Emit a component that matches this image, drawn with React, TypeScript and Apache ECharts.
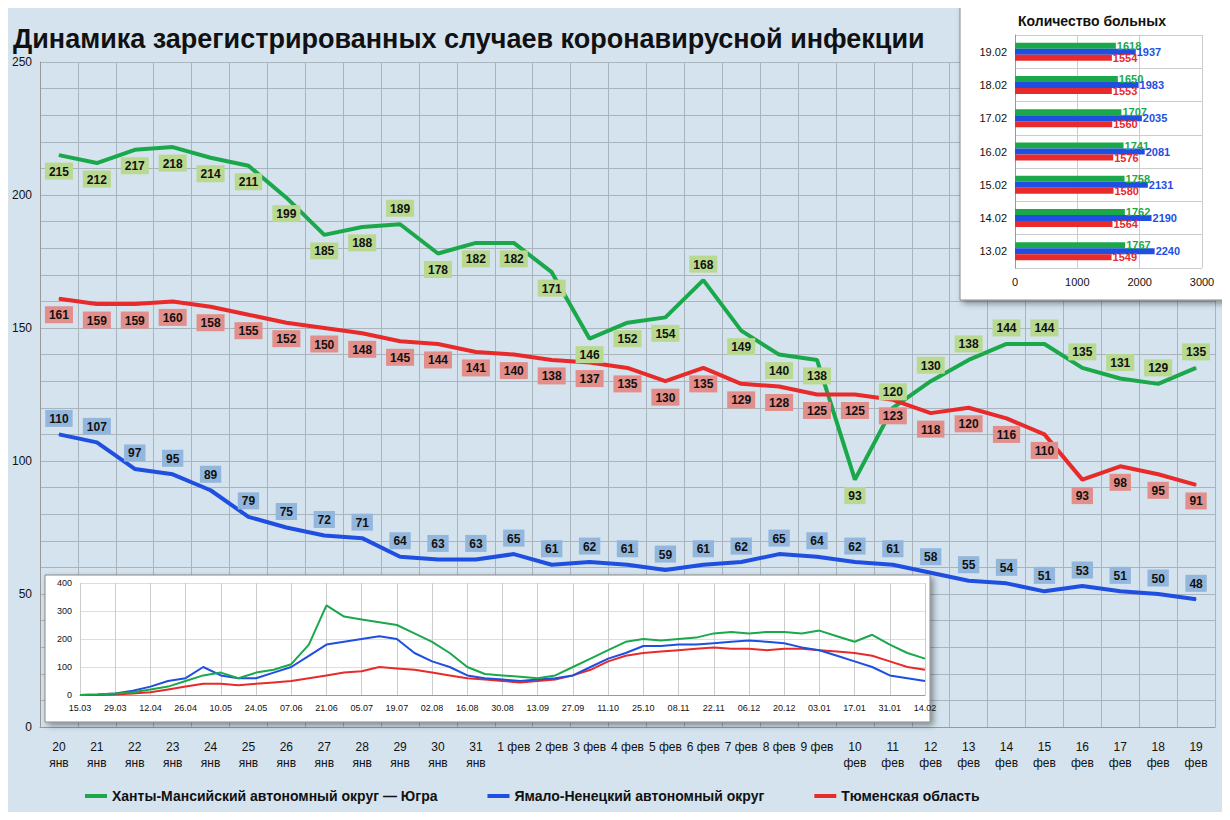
import { useEffect, useRef } from "react";
import * as echarts from "echarts";

const days = ["20\nянв", "21\nянв", "22\nянв", "23\nянв", "24\nянв", "25\nянв", "26\nянв", "27\nянв", "28\nянв", "29\nянв", "30\nянв", "31\nянв",
  "1 фев", "2 фев", "3 фев", "4 фев", "5 фев", "6 фев", "7 фев", "8 фев", "9 фев",
  "10\nфев", "11\nфев", "12\nфев", "13\nфев", "14\nфев", "15\nфев", "16\nфев", "17\nфев", "18\nфев", "19\nфев"];
const hmao = [215, 212, 217, 218, 214, 211, 199, 185, 188, 189, 178, 182, 182, 171, 146, 152, 154, 168, 149, 140, 138, 93, 120, 130, 138, 144, 144, 135, 131, 129, 135];
const tyumen = [161, 159, 159, 160, 158, 155, 152, 150, 148, 145, 144, 141, 140, 138, 137, 135, 130, 135, 129, 128, 125, 125, 123, 118, 120, 116, 110, 93, 98, 95, 91];
const yanao = [110, 107, 97, 95, 89, 79, 75, 72, 71, 64, 63, 63, 65, 61, 62, 61, 59, 61, 62, 65, 64, 62, 61, 58, 55, 54, 51, 53, 51, 50, 48];
const hmaoAbove = [9, 17, 22, 23, 24, 25, 26, 27, 28, 29, 30];

const barDates = ["13.02", "14.02", "15.02", "16.02", "17.02", "18.02", "19.02"];
const barHmao = [1767, 1762, 1758, 1741, 1707, 1650, 1618];
const barYanao = [2240, 2190, 2131, 2081, 2035, 1983, 1937];
const barTyumen = [1549, 1564, 1580, 1576, 1560, 1553, 1554];

const weeks = ["15.03", "22.03", "29.03", "05.04", "12.04", "19.04", "26.04", "03.05", "10.05", "17.05", "24.05", "31.05", "07.06", "14.06", "21.06", "28.06", "05.07", "12.07", "19.07", "26.07", "02.08", "09.08", "16.08", "23.08", "30.08", "06.09", "13.09", "20.09", "27.09", "04.10", "11.10", "18.10", "25.10", "01.11", "08.11", "15.11", "22.11", "29.11", "06.12", "13.12", "20.12", "27.12", "03.01", "10.01", "17.01", "24.01", "31.01", "07.02", "14.02"];
const histHmao = [0, 2, 5, 10, 20, 30, 50, 70, 80, 60, 80, 90, 110, 180, 320, 280, 270, 260, 250, 220, 190, 150, 100, 75, 70, 65, 60, 70, 100, 130, 160, 190, 200, 195, 200, 205, 220, 225, 220, 225, 225, 220, 230, 210, 190, 215, 180, 150, 130];
const histYanao = [0, 2, 5, 15, 30, 50, 60, 100, 70, 60, 60, 80, 100, 140, 180, 190, 200, 210, 200, 150, 120, 100, 70, 60, 55, 50, 55, 60, 70, 100, 130, 150, 175, 175, 180, 180, 185, 190, 195, 190, 185, 170, 160, 140, 120, 100, 70, 60, 50];
const histTyumen = [0, 0, 2, 5, 10, 20, 30, 40, 40, 35, 40, 45, 50, 60, 70, 80, 85, 100, 95, 90, 80, 70, 60, 55, 50, 45, 50, 55, 70, 90, 120, 140, 150, 155, 160, 165, 170, 165, 165, 160, 165, 165, 160, 155, 150, 140, 120, 100, 90];

const GREEN = "#1aa84a";
const BLUE = "#1f4fe0";
const RED = "#e82a2a";

function boxLabel(bg: string) {
  return { show: true, backgroundColor: bg, color: "#111", fontWeight: "bold" as const, fontSize: 12, padding: [3, 4, 2, 4], distance: 7 };
}

function barLabel(color: string) {
  return { show: true, position: "right", color, fontWeight: "bold", fontSize: 11, distance: 1 };
}

export default function App() {
  const ref = useRef<HTMLDivElement | null>(null);

  useEffect(() => {
    if (!ref.current) return;
    const chart = echarts.init(ref.current, undefined, { renderer: "svg" });
    const font = "Liberation Sans, Arial, sans-serif";
    const mainLine = { type: "line", symbol: "circle", symbolSize: 1, showSymbol: true, z: 3 };
    chart.setOption({
      animation: false,
      backgroundColor: "#d4e3ee",
      textStyle: { fontFamily: font },
      title: { text: "Динамика зарегистрированных случаев коронавирусной инфекции", left: 8, top: 20, textStyle: { fontSize: 27, fontWeight: "bold", color: "#111" } },
      legend: {
        bottom: 12, left: 80, itemGap: 50, icon: "rect", itemWidth: 22, itemHeight: 4,
        textStyle: { fontSize: 14, fontWeight: "bold", color: "#111" },
        data: ["Ханты-Мансийский автономный округ — Югра", "Ямало-Ненецкий автономный округ", "Тюменская область"],
      },
      graphic: [
        { type: "rect", shape: { x: 45, y: 575, width: 885, height: 147 }, style: { fill: "#fff", stroke: "#888", shadowBlur: 6, shadowColor: "rgba(0,0,0,0.4)", shadowOffsetX: 3, shadowOffsetY: 3 }, z: 5 },
        { type: "rect", shape: { x: 960, y: 5, width: 265, height: 295 }, style: { fill: "#fff", stroke: "#888", shadowBlur: 6, shadowColor: "rgba(0,0,0,0.4)", shadowOffsetX: 3, shadowOffsetY: 3 }, z: 5 },
        { type: "text", x: 1092, y: 14, z: 6, style: { text: "Количество больных", fill: "#111", font: `bold 14px ${font}`, textAlign: "center" } },
      ],
      grid: [
        { left: 40, right: 15, top: 62, bottom: 93, z: 1 },
        { left: 1015, right: 28, top: 35, bottom: 552, z: 7 },
        { left: 80, right: 305, top: 583, bottom: 125, z: 7 },
      ],
      xAxis: [
        { type: "category", gridIndex: 0, data: days, axisTick: { show: false }, axisLine: { lineStyle: { color: "#999" } },
          splitLine: { show: true, lineStyle: { color: "#aab4bd" } }, axisLabel: { color: "#111", fontSize: 12, lineHeight: 16, margin: 12, interval: 0 } },
        { type: "value", gridIndex: 1, z: 7, min: 0, max: 3000, interval: 1000, axisLabel: { fontSize: 11, color: "#111", formatter: (v: number) => String(v) }, splitLine: { lineStyle: { color: "#ccc" } } },
        { type: "category", gridIndex: 2, z: 7, data: weeks, boundaryGap: false, axisTick: { show: false }, axisLabel: { fontSize: 9, color: "#111", interval: 1 },
          splitLine: { show: true, interval: 1, lineStyle: { color: "#ccc" } }, axisLine: { lineStyle: { color: "#999" } } },
      ],
      yAxis: [
        { type: "value", gridIndex: 0, min: 0, max: 250, interval: 10, axisLine: { show: true, lineStyle: { color: "#999" } },
          axisLabel: { color: "#111", fontSize: 12, formatter: (v: number) => (v % 50 === 0 ? String(v) : "") },
          splitLine: { lineStyle: { color: "#aab4bd" } } },
        { type: "category", gridIndex: 1, z: 7, data: barDates, axisTick: { show: false }, axisLabel: { fontSize: 11, color: "#111" },
          splitLine: { show: true, lineStyle: { color: "#ccc" } }, axisLine: { lineStyle: { color: "#999" } } },
        { type: "value", gridIndex: 2, z: 7, min: 0, max: 400, interval: 100, axisLabel: { fontSize: 9, color: "#111" }, splitLine: { lineStyle: { color: "#ddd" } } },
      ],
      series: [
        { ...mainLine, name: "Ханты-Мансийский автономный округ — Югра", data: hmao.map((v, i) => ({ value: v, label: { position: hmaoAbove.includes(i) ? "top" : "bottom" } })),
          lineStyle: { color: GREEN, width: 4 }, itemStyle: { color: GREEN }, label: boxLabel("#b8d98f") },
        { ...mainLine, name: "Ямало-Ненецкий автономный округ", data: yanao, lineStyle: { color: BLUE, width: 4 }, itemStyle: { color: BLUE },
          label: { ...boxLabel("#93b6dc"), position: "top" } },
        { ...mainLine, name: "Тюменская область", data: tyumen, lineStyle: { color: RED, width: 4 }, itemStyle: { color: RED },
          label: { ...boxLabel("#e28e8a"), position: "bottom" } },
        { type: "bar", xAxisIndex: 1, yAxisIndex: 1, data: barHmao, barWidth: 6, barGap: "0%", itemStyle: { color: GREEN }, z: 8, label: barLabel(GREEN) },
        { type: "bar", xAxisIndex: 1, yAxisIndex: 1, data: barYanao, barWidth: 6, barGap: "0%", itemStyle: { color: BLUE }, z: 8, label: barLabel(BLUE) },
        { type: "bar", xAxisIndex: 1, yAxisIndex: 1, data: barTyumen, barWidth: 6, barGap: "0%", itemStyle: { color: RED }, z: 8, label: barLabel(RED) },
        { type: "line", xAxisIndex: 2, yAxisIndex: 2, data: histTyumen, symbol: "none", lineStyle: { color: RED, width: 2 }, z: 8 },
        { type: "line", xAxisIndex: 2, yAxisIndex: 2, data: histYanao, symbol: "none", lineStyle: { color: BLUE, width: 2 }, z: 8 },
        { type: "line", xAxisIndex: 2, yAxisIndex: 2, data: histHmao, symbol: "none", lineStyle: { color: GREEN, width: 2 }, z: 8 },
      ],
    });
    return () => chart.dispose();
  }, []);

  return <div ref={ref} style={{ width: 1230, height: 820, margin: -8 }} />;
}
